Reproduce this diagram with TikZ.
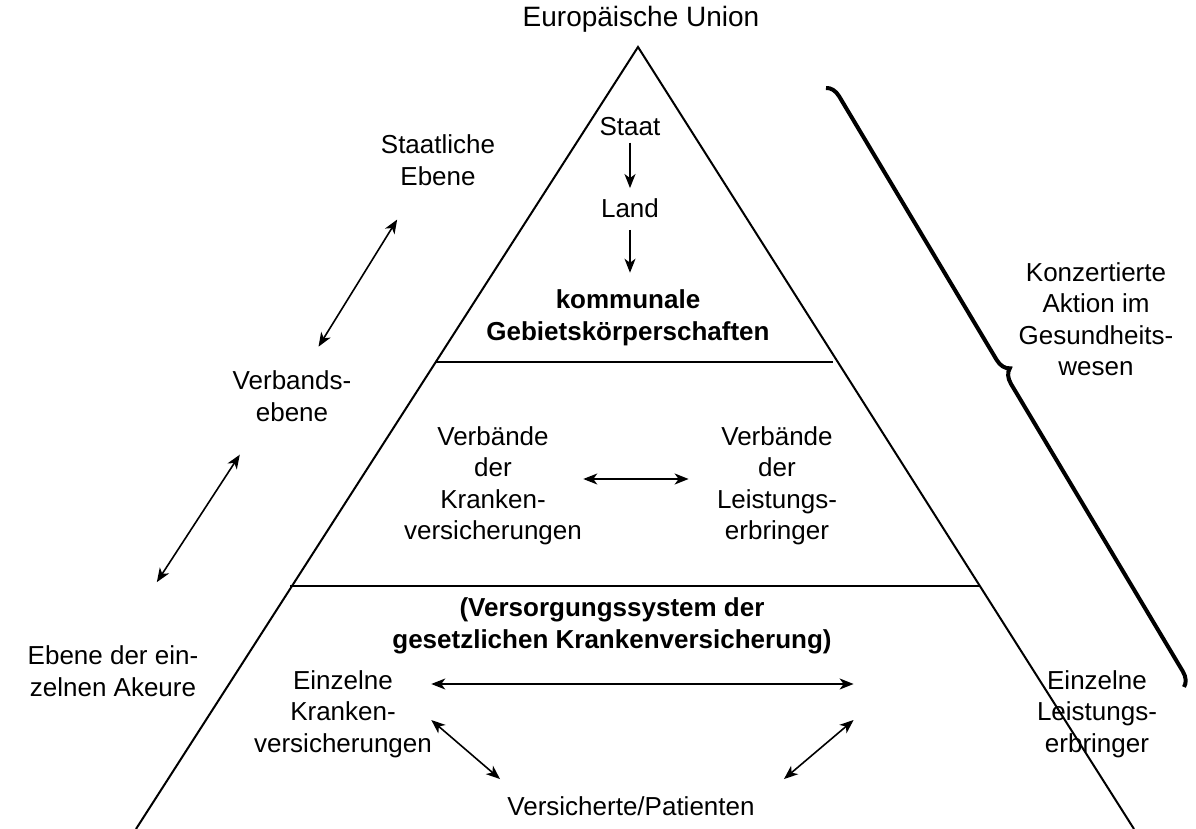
\documentclass[tikz,border=0pt]{standalone}
\usepackage{fontspec}
\setmainfont{Liberation Sans}
\usetikzlibrary{arrows.meta,positioning,decorations.pathreplacing}

\begin{document}
\begin{tikzpicture}[
    x=0.5pt, y=-0.5pt,
    lbl/.style={text centered, align=center, inner sep=3pt,
                font=\fontsize{13}{15.75}\selectfont},
    lblb/.style={lbl, font=\fontsize{13}{15.75}\selectfont\bfseries},
    edge/.style={line width=1pt},
    arr/.style={->, line width=0.8pt, >={Stealth[length=7pt,width=5.5pt,inset=2pt]}},
    darr/.style={arr, <->},
    klammer/.style={line width=2pt, decorate,
                    decoration={brace, amplitude=7pt, aspect=0.48}}
]
\useasboundingbox (0,0) rectangle (1196,829);

% pyramid
\coordinate (top) at (638,47);
\coordinate (bl)  at (136,829);
\coordinate (br)  at (1134,829);
\draw[edge] (bl) -- (top) -- (br);
\draw[edge] (435,362) -- (833,362);
\draw[edge] (290,586) -- (979,586);

\node[lbl, font=\fontsize{14}{16}\selectfont] (eu) at (641,19) {Europäische Union};

% staatliche ebene
\node[lbl]  (staat)    at (630,127) {Staat};
\node[lbl]  (land)     at (630,208) {Land};
\node[lblb] (kommunal) at (628,318) {kommunale\\Gebietskörperschaften};

% verbandsebene
\node[lbl] (vk) at (493,486) {Verbände\\der\\Kranken-\\versicherungen};
\node[lbl] (vl) at (777,486) {Verbände\\der\\Leistungs-\\erbringer};

% einzelne akteure
\node[lblb] (gkv) at (612,626) {(Versorgungssystem der\\gesetzlichen Krankenversicherung)};
\node[lbl]  (ek)  at (343,714) {Einzelne\\Kranken-\\versicherungen};
\node[lbl]  (el)  at (1097,714) {Einzelne\\Leistungs-\\erbringer};
\node[lbl]  (pat) at (631,806) {Versicherte/Patienten};

% ebenen links
\node[lbl] (staatlich) at (438,160) {Staatliche\\Ebene};
\node[lbl] (verband)   at (292,396) {Verbands-\\ebene};
\node[lbl] (akteure)   at (113,671) {Ebene der ein-\\zelnen Akeure};

% konzertierte aktion
\node[lbl] (konz) at (1096,319) {Konzertierte\\Aktion im\\Gesundheits-\\wesen};
\draw[klammer] (826,88) -- (1184,687);

\draw[arr, shorten >=2pt] (staat) -- (land);
\draw[arr, shorten <=3pt, shorten >=5.5pt] (land.south) -- (land.south |- kommunal.north);
\draw[darr] ([xshift=-2.5pt]vk.east |- 0,479) -- ([xshift=-11pt]vl.west |- 0,479);
\draw[darr] ([shift={(-3.5pt,15pt)}]ek.east) -- ([shift={(-88.5pt,15pt)}]el.west);
\draw[darr] ([shift={(-3.5pt,-3pt)}]ek.east) -- ([shift={(-0.5pt,5.5pt)}]pat.north west);
\draw[darr] ([shift={(-88.5pt,-3pt)}]el.west) -- ([shift={(11.5pt,5.5pt)}]pat.north east);
\draw[darr, shorten <=35pt, shorten >=29pt] ([xshift=-2pt]staatlich.center) -- ([xshift=-2pt]verband.center);
\draw[darr, shorten <=35pt, shorten >=53pt] ([xshift=-7pt]verband.center) -- ([xshift=-7pt]akteure.center);
\end{tikzpicture}
\end{document}
